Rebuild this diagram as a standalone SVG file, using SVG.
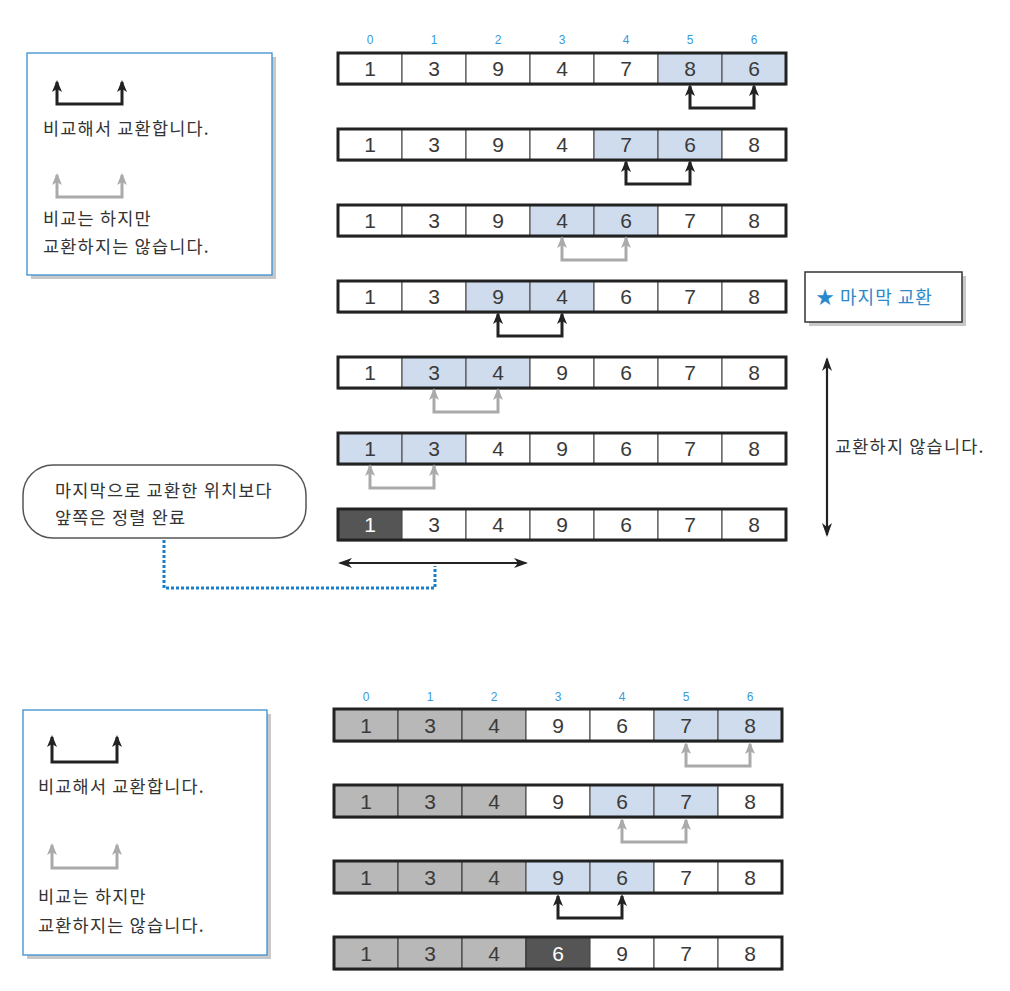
<svg xmlns="http://www.w3.org/2000/svg" width="1010" height="991" viewBox="0 0 1010 991">
<style>
.num{font-family:"Liberation Sans","Noto Sans",sans-serif;font-size:21px;fill:#3a3a3a;text-anchor:middle}
.numw{font-family:"Liberation Sans","Noto Sans",sans-serif;font-size:21px;fill:#fff;text-anchor:middle}
.idx{font-family:"Liberation Sans","Noto Sans",sans-serif;font-size:12px;fill:#3a9ad9;text-anchor:middle}
.kr{font-family:"Noto Sans CJK KR","Noto Sans",sans-serif;font-size:17.5px;letter-spacing:1.2px;fill:#333}
.krb{font-family:"Noto Sans CJK KR","Noto Sans",sans-serif;font-size:18px;letter-spacing:1px;fill:#2a88cc}
.c{fill:#fff;stroke:#555;stroke-width:1.2}
.h{fill:#cfdcee;stroke:#555;stroke-width:1.2}
.g{fill:#b8b8b8;stroke:#444;stroke-width:1.2}
.d{fill:#555;stroke:#333;stroke-width:1.2}
.outer{fill:none;stroke:#222;stroke-width:3}
.sh{fill:#c8c8c8}
.blk{fill:none;stroke:#222;stroke-width:3}
.gry{fill:none;stroke:#aaa;stroke-width:3}
.dbl{fill:none;stroke:#222;stroke-width:2.2}
.leg{fill:#fff;stroke:#3a8fd0;stroke-width:1.3}
</style>
<defs>
<marker id="ab" viewBox="0 0 12 10" refX="10" refY="5" markerWidth="12" markerHeight="10" markerUnits="userSpaceOnUse" orient="auto-start-reverse"><path d="M0,0 L12,5 L0,10 L3,5 z" fill="#222"/></marker>
<marker id="ag" viewBox="0 0 12 10" refX="10" refY="5" markerWidth="12" markerHeight="10" markerUnits="userSpaceOnUse" orient="auto-start-reverse"><path d="M0,0 L12,5 L0,10 L3,5 z" fill="#aaa"/></marker>
<marker id="ad" viewBox="0 0 14 10" refX="12" refY="5" markerWidth="14" markerHeight="10" markerUnits="userSpaceOnUse" orient="auto-start-reverse"><path d="M0,0 L14,5 L0,10 L4,5 z" fill="#222"/></marker>
</defs>

<!-- top legend -->
<g id="legend-top">
<rect x="31" y="57" width="245" height="222" class="sh"/>
<rect x="27" y="53" width="245" height="222" class="leg"/>
<path d="M57,82 V104 H122 V82" class="blk" marker-start="url(#ab)" marker-end="url(#ab)"/>
<text x="43" y="135" class="kr">비교해서 교환합니다.</text>
<path d="M57,175 V197 H122 V175" class="gry" marker-start="url(#ag)" marker-end="url(#ag)"/>
<text x="43" y="225" class="kr">비교는 하지만</text>
<text x="43" y="253" class="kr">교환하지는 않습니다.</text>
</g>

<!-- top indices -->
<g id="idx-top">
<text x="370" y="44" class="idx">0</text><text x="434" y="44" class="idx">1</text><text x="498" y="44" class="idx">2</text><text x="562" y="44" class="idx">3</text><text x="626" y="44" class="idx">4</text><text x="690" y="44" class="idx">5</text><text x="754" y="44" class="idx">6</text>
</g>

<!-- top row 1 -->
<g id="t1">
<rect x="338" y="55" width="448" height="31" class="sh"/>
<rect x="338" y="53" width="64" height="31" class="c"/><rect x="402" y="53" width="64" height="31" class="c"/><rect x="466" y="53" width="64" height="31" class="c"/><rect x="530" y="53" width="64" height="31" class="c"/><rect x="594" y="53" width="64" height="31" class="c"/><rect x="658" y="53" width="64" height="31" class="h"/><rect x="722" y="53" width="64" height="31" class="h"/>
<rect x="338" y="53" width="448" height="31" class="outer"/>
<text x="370" y="76" class="num">1</text><text x="434" y="76" class="num">3</text><text x="498" y="76" class="num">9</text><text x="562" y="76" class="num">4</text><text x="626" y="76" class="num">7</text><text x="690" y="76" class="num">8</text><text x="754" y="76" class="num">6</text>
</g>
<!-- top row 2 -->
<g id="t2">
<rect x="338" y="131" width="448" height="31" class="sh"/>
<rect x="338" y="129" width="64" height="31" class="c"/><rect x="402" y="129" width="64" height="31" class="c"/><rect x="466" y="129" width="64" height="31" class="c"/><rect x="530" y="129" width="64" height="31" class="c"/><rect x="594" y="129" width="64" height="31" class="h"/><rect x="658" y="129" width="64" height="31" class="h"/><rect x="722" y="129" width="64" height="31" class="c"/>
<rect x="338" y="129" width="448" height="31" class="outer"/>
<text x="370" y="152" class="num">1</text><text x="434" y="152" class="num">3</text><text x="498" y="152" class="num">9</text><text x="562" y="152" class="num">4</text><text x="626" y="152" class="num">7</text><text x="690" y="152" class="num">6</text><text x="754" y="152" class="num">8</text>
</g>
<!-- top row 3 -->
<g id="t3">
<rect x="338" y="207" width="448" height="31" class="sh"/>
<rect x="338" y="205" width="64" height="31" class="c"/><rect x="402" y="205" width="64" height="31" class="c"/><rect x="466" y="205" width="64" height="31" class="c"/><rect x="530" y="205" width="64" height="31" class="h"/><rect x="594" y="205" width="64" height="31" class="h"/><rect x="658" y="205" width="64" height="31" class="c"/><rect x="722" y="205" width="64" height="31" class="c"/>
<rect x="338" y="205" width="448" height="31" class="outer"/>
<text x="370" y="228" class="num">1</text><text x="434" y="228" class="num">3</text><text x="498" y="228" class="num">9</text><text x="562" y="228" class="num">4</text><text x="626" y="228" class="num">6</text><text x="690" y="228" class="num">7</text><text x="754" y="228" class="num">8</text>
</g>
<!-- top row 4 -->
<g id="t4">
<rect x="338" y="283" width="448" height="31" class="sh"/>
<rect x="338" y="281" width="64" height="31" class="c"/><rect x="402" y="281" width="64" height="31" class="c"/><rect x="466" y="281" width="64" height="31" class="h"/><rect x="530" y="281" width="64" height="31" class="h"/><rect x="594" y="281" width="64" height="31" class="c"/><rect x="658" y="281" width="64" height="31" class="c"/><rect x="722" y="281" width="64" height="31" class="c"/>
<rect x="338" y="281" width="448" height="31" class="outer"/>
<text x="370" y="304" class="num">1</text><text x="434" y="304" class="num">3</text><text x="498" y="304" class="num">9</text><text x="562" y="304" class="num">4</text><text x="626" y="304" class="num">6</text><text x="690" y="304" class="num">7</text><text x="754" y="304" class="num">8</text>
</g>
<!-- top row 5 -->
<g id="t5">
<rect x="338" y="359" width="448" height="31" class="sh"/>
<rect x="338" y="357" width="64" height="31" class="c"/><rect x="402" y="357" width="64" height="31" class="h"/><rect x="466" y="357" width="64" height="31" class="h"/><rect x="530" y="357" width="64" height="31" class="c"/><rect x="594" y="357" width="64" height="31" class="c"/><rect x="658" y="357" width="64" height="31" class="c"/><rect x="722" y="357" width="64" height="31" class="c"/>
<rect x="338" y="357" width="448" height="31" class="outer"/>
<text x="370" y="380" class="num">1</text><text x="434" y="380" class="num">3</text><text x="498" y="380" class="num">4</text><text x="562" y="380" class="num">9</text><text x="626" y="380" class="num">6</text><text x="690" y="380" class="num">7</text><text x="754" y="380" class="num">8</text>
</g>
<!-- top row 6 -->
<g id="t6">
<rect x="338" y="435" width="448" height="31" class="sh"/>
<rect x="338" y="433" width="64" height="31" class="h"/><rect x="402" y="433" width="64" height="31" class="h"/><rect x="466" y="433" width="64" height="31" class="c"/><rect x="530" y="433" width="64" height="31" class="c"/><rect x="594" y="433" width="64" height="31" class="c"/><rect x="658" y="433" width="64" height="31" class="c"/><rect x="722" y="433" width="64" height="31" class="c"/>
<rect x="338" y="433" width="448" height="31" class="outer"/>
<text x="370" y="456" class="num">1</text><text x="434" y="456" class="num">3</text><text x="498" y="456" class="num">4</text><text x="562" y="456" class="num">9</text><text x="626" y="456" class="num">6</text><text x="690" y="456" class="num">7</text><text x="754" y="456" class="num">8</text>
</g>
<!-- top row 7 -->
<g id="t7">
<rect x="338" y="511" width="448" height="31" class="sh"/>
<rect x="338" y="509" width="64" height="31" class="d"/><rect x="402" y="509" width="64" height="31" class="c"/><rect x="466" y="509" width="64" height="31" class="c"/><rect x="530" y="509" width="64" height="31" class="c"/><rect x="594" y="509" width="64" height="31" class="c"/><rect x="658" y="509" width="64" height="31" class="c"/><rect x="722" y="509" width="64" height="31" class="c"/>
<rect x="338" y="509" width="448" height="31" class="outer"/>
<text x="370" y="532" class="numw">1</text><text x="434" y="532" class="num">3</text><text x="498" y="532" class="num">4</text><text x="562" y="532" class="num">9</text><text x="626" y="532" class="num">6</text><text x="690" y="532" class="num">7</text><text x="754" y="532" class="num">8</text>
</g>

<!-- star box -->
<g id="last-swap">
<rect x="809" y="276" width="157" height="50" class="sh"/>
<rect x="805" y="272" width="157" height="50" fill="#fff" stroke="#333" stroke-width="1.5"/>
<text x="816" y="304" class="krb">★ 마지막 교환</text>
</g>
<g id="no-swap-label">
<text x="835" y="453" class="kr">교환하지 않습니다.</text>
</g>

<!-- note -->
<g id="note">
<rect x="23" y="465" width="283" height="73" rx="30" ry="30" fill="#fff" stroke="#555" stroke-width="1.5"/>
<text x="55" y="497" class="kr">마지막으로 교환한 위치보다</text>
<text x="55" y="524" class="kr">앞쪽은 정렬 완료</text>
</g>

<!-- bottom legend -->
<g id="legend-bottom">
<rect x="27" y="714" width="244" height="245" class="sh"/>
<rect x="23" y="710" width="244" height="245" class="leg"/>
<path d="M52,737 V762 H117 V737" class="blk" marker-start="url(#ab)" marker-end="url(#ab)"/>
<text x="38" y="793" class="kr">비교해서 교환합니다.</text>
<path d="M52,845 V868 H117 V845" class="gry" marker-start="url(#ag)" marker-end="url(#ag)"/>
<text x="38" y="903" class="kr">비교는 하지만</text>
<text x="38" y="932" class="kr">교환하지는 않습니다.</text>
</g>

<!-- bottom indices -->
<g id="idx-bottom">
<text x="366" y="701" class="idx">0</text><text x="430" y="701" class="idx">1</text><text x="494" y="701" class="idx">2</text><text x="558" y="701" class="idx">3</text><text x="622" y="701" class="idx">4</text><text x="686" y="701" class="idx">5</text><text x="750" y="701" class="idx">6</text>
</g>

<!-- bottom row 1 -->
<g id="b1">
<rect x="334" y="711" width="448" height="32" class="sh"/>
<rect x="334" y="709" width="64" height="32" class="g"/><rect x="398" y="709" width="64" height="32" class="g"/><rect x="462" y="709" width="64" height="32" class="g"/><rect x="526" y="709" width="64" height="32" class="c"/><rect x="590" y="709" width="64" height="32" class="c"/><rect x="654" y="709" width="64" height="32" class="h"/><rect x="718" y="709" width="64" height="32" class="h"/>
<rect x="334" y="709" width="448" height="32" class="outer"/>
<text x="366" y="733" class="num">1</text><text x="430" y="733" class="num">3</text><text x="494" y="733" class="num">4</text><text x="558" y="733" class="num">9</text><text x="622" y="733" class="num">6</text><text x="686" y="733" class="num">7</text><text x="750" y="733" class="num">8</text>
</g>
<!-- bottom row 2 -->
<g id="b2">
<rect x="334" y="787" width="448" height="32" class="sh"/>
<rect x="334" y="785" width="64" height="32" class="g"/><rect x="398" y="785" width="64" height="32" class="g"/><rect x="462" y="785" width="64" height="32" class="g"/><rect x="526" y="785" width="64" height="32" class="c"/><rect x="590" y="785" width="64" height="32" class="h"/><rect x="654" y="785" width="64" height="32" class="h"/><rect x="718" y="785" width="64" height="32" class="c"/>
<rect x="334" y="785" width="448" height="32" class="outer"/>
<text x="366" y="809" class="num">1</text><text x="430" y="809" class="num">3</text><text x="494" y="809" class="num">4</text><text x="558" y="809" class="num">9</text><text x="622" y="809" class="num">6</text><text x="686" y="809" class="num">7</text><text x="750" y="809" class="num">8</text>
</g>
<!-- bottom row 3 -->
<g id="b3">
<rect x="334" y="863" width="448" height="32" class="sh"/>
<rect x="334" y="861" width="64" height="32" class="g"/><rect x="398" y="861" width="64" height="32" class="g"/><rect x="462" y="861" width="64" height="32" class="g"/><rect x="526" y="861" width="64" height="32" class="h"/><rect x="590" y="861" width="64" height="32" class="h"/><rect x="654" y="861" width="64" height="32" class="c"/><rect x="718" y="861" width="64" height="32" class="c"/>
<rect x="334" y="861" width="448" height="32" class="outer"/>
<text x="366" y="885" class="num">1</text><text x="430" y="885" class="num">3</text><text x="494" y="885" class="num">4</text><text x="558" y="885" class="num">9</text><text x="622" y="885" class="num">6</text><text x="686" y="885" class="num">7</text><text x="750" y="885" class="num">8</text>
</g>
<!-- bottom row 4 -->
<g id="b4">
<rect x="334" y="939" width="448" height="32" class="sh"/>
<rect x="334" y="937" width="64" height="32" class="g"/><rect x="398" y="937" width="64" height="32" class="g"/><rect x="462" y="937" width="64" height="32" class="g"/><rect x="526" y="937" width="64" height="32" class="d"/><rect x="590" y="937" width="64" height="32" class="c"/><rect x="654" y="937" width="64" height="32" class="c"/><rect x="718" y="937" width="64" height="32" class="c"/>
<rect x="334" y="937" width="448" height="32" class="outer"/>
<text x="366" y="961" class="num">1</text><text x="430" y="961" class="num">3</text><text x="494" y="961" class="num">4</text><text x="558" y="961" class="numw">6</text><text x="622" y="961" class="num">9</text><text x="686" y="961" class="num">7</text><text x="750" y="961" class="num">8</text>
</g>

<!-- connectors -->
<g id="connectors">
<path d="M690,86 V108 H754 V86" class="blk" marker-start="url(#ab)" marker-end="url(#ab)"/>
<path d="M626,162 V184 H690 V162" class="blk" marker-start="url(#ab)" marker-end="url(#ab)"/>
<path d="M562,238 V260 H626 V238" class="gry" marker-start="url(#ag)" marker-end="url(#ag)"/>
<path d="M498,314 V336 H562 V314" class="blk" marker-start="url(#ab)" marker-end="url(#ab)"/>
<path d="M434,390 V412 H498 V390" class="gry" marker-start="url(#ag)" marker-end="url(#ag)"/>
<path d="M370,466 V488 H434 V466" class="gry" marker-start="url(#ag)" marker-end="url(#ag)"/>
<path d="M340,563 H526" class="dbl" marker-start="url(#ad)" marker-end="url(#ad)"/>
<path d="M827,359 V535" class="dbl" marker-start="url(#ad)" marker-end="url(#ad)"/>
<path d="M164,540 V588 H435 V566" fill="none" stroke="#1a7fc8" stroke-width="3" stroke-dasharray="3 2"/>
<path d="M686,744 V766 H750 V744" class="gry" marker-start="url(#ag)" marker-end="url(#ag)"/>
<path d="M622,820 V842 H686 V820" class="gry" marker-start="url(#ag)" marker-end="url(#ag)"/>
<path d="M558,896 V918 H622 V896" class="blk" marker-start="url(#ab)" marker-end="url(#ab)"/>
</g>
</svg>
